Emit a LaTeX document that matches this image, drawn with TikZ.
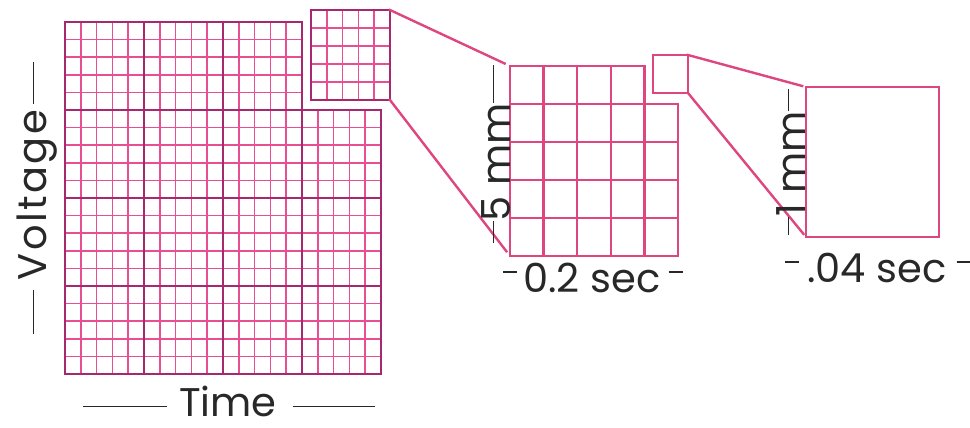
\documentclass[tikz,border=0pt]{standalone}
\usepackage{fontspec}
\setmainfont{Poppins}
\usetikzlibrary{positioning}

\definecolor{minorpink}{RGB}{232,78,146}
\definecolor{majorpink}{RGB}{166,40,110}
\definecolor{zoompink}{RGB}{222,70,128}
\definecolor{inkgray}{RGB}{40,40,40}

% raised bar used for the dashes round the labels
\newcommand\barline[2][0.3em]{\rule[#1]{#2}{0.8pt}}

\tikzset{
  minorline/.style={minorpink, line width=0.85pt},
  majorline/.style={majorpink, line width=1.4pt, line cap=rect},
  zoomline/.style={zoompink, line width=1.2pt, line cap=rect},
  cellbox/.style={draw=majorpink, line width=1.4pt, inner sep=0pt, outer sep=0pt},
  zoombox/.style={draw=zoompink, line width=1.2pt, inner sep=0pt, outer sep=0pt},
  scalelabel/.style={font=\fontsize{20}{24}\selectfont, text=inkgray, inner sep=0pt}
}

\begin{document}
\begin{tikzpicture}[x=0.5pt,y=-0.5pt]
  \useasboundingbox[fill=white] (0,0) rectangle (970,428);

  % ECG paper, minor lines
  \foreach \i in {0,...,15} \draw[minorline] (65+15.8*\i,22) -- (65+15.8*\i,374);
  \foreach \i in {16,...,20} \draw[minorline] (65+15.8*\i,110) -- (65+15.8*\i,374);
  \foreach \j in {0,...,4} \draw[minorline] (65,22+17.6*\j) -- (302,22+17.6*\j);
  \foreach \j in {5,...,20} \draw[minorline] (65,22+17.6*\j) -- (381,22+17.6*\j);
  % major lines
  \foreach \i in {0,5,10,15} \draw[majorline] (65+15.8*\i,22) -- (65+15.8*\i,374);
  \draw[majorline] (381,110) -- (381,374);
  \draw[majorline] (65,22) -- (302,22);
  \foreach \j in {5,10,15,20} \draw[majorline] (65,22+17.6*\j) -- (381,22+17.6*\j);

  % the big square taken out
  \foreach \i in {1,...,4} \draw[minorline] (311+15.8*\i,10) -- (311+15.8*\i,100);
  \foreach \j in {1,...,4} \draw[minorline] (311,10+18*\j) -- (390,10+18*\j);
  \node[cellbox, minimum width=39.5pt, minimum height=45pt] (bigcell) at (350.5,55) {};

  % big square, enlarged
  \foreach \i in {0,...,4} \draw[zoomline] (510+33.6*\i,66) -- (510+33.6*\i,256);
  \draw[zoomline] (678,104) -- (678,256);
  \draw[zoomline] (510,66) -- (644.4,66);
  \foreach \j in {1,...,5} \draw[zoomline] (510,66+38*\j) -- (678,66+38*\j);
  \coordinate (mid-nw) at (510,66);
  \coordinate (mid-sw) at (510,256);
  \node[zoombox, minimum width=17.5pt, minimum height=19pt] (midcell) at (670.5,74) {};

  % small square, enlarged
  \node[zoombox, minimum width=66.5pt, minimum height=75pt] (onemm) at (872.5,162) {};

  % zoom lines
  \draw[zoomline, shorten >=3pt] (bigcell.north east) -- (mid-nw);
  \draw[zoomline, shorten >=3pt] (bigcell.south east) -- (mid-sw);
  \draw[zoomline, shorten >=2pt] (midcell.north east) -- (onemm.north west);
  \draw[zoomline, shorten >=2pt] (midcell.south east) -- (onemm.south west);

  % labels
  \node[scalelabel, rotate=90] (voltage) at (37,198)
    {\barline{22pt}\hspace{5pt}{\addfontfeature{LetterSpace=6}Voltage}\hspace{3pt}\barline{21pt}};
  \node[scalelabel] (time) at (229,401)
    {\barline[0.22em]{42pt}\hspace{6pt}Time\hspace{8pt}\barline[0.22em]{41pt}};
  \node[scalelabel, rotate=90] (fivemm) at (496,154)
    {\barline[0.4em]{11pt}5 mm\barline[0.4em]{19pt}};
  \node[scalelabel] (fifthsec) at (593,278)
    {\barline[0.5em]{7pt}\hspace{3pt}0.2 sec\hspace{4pt}\barline[0.5em]{7pt}};
  \node[scalelabel, rotate=90] (onemmlabel) at (791,162)
    {\barline[0.4em]{9pt}1 mm\barline[0.4em]{11pt}};
  \node[scalelabel] (smallsec) at (878,268)
    {\barline[0.5em]{7pt}\hspace{4pt}.04 sec\hspace{5pt}\barline[0.5em]{7pt}};
\end{tikzpicture}
\end{document}
